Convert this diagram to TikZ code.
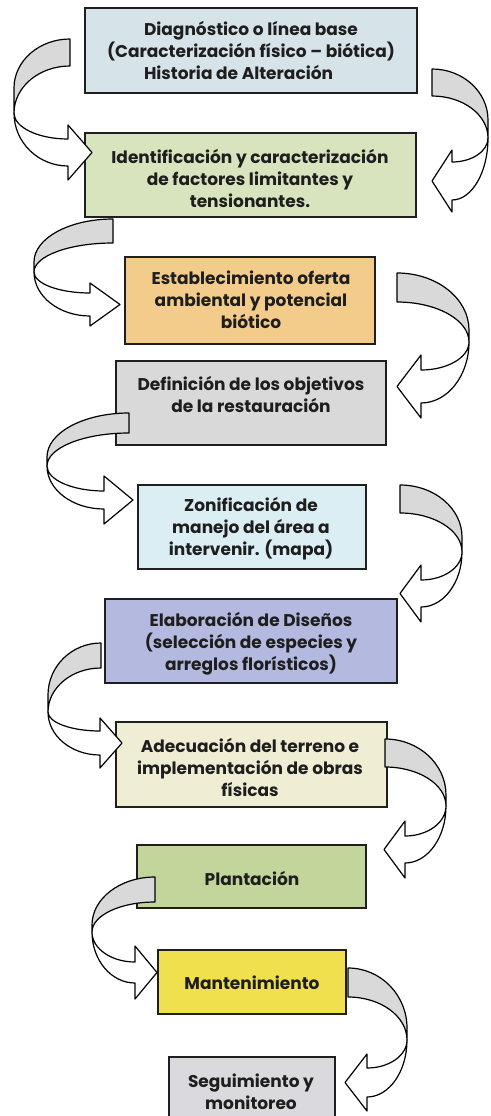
\documentclass[tikz,border=0pt]{standalone}
\usepackage{fontspec}
\setmainfont{Poppins}
\definecolor{txt}{HTML}{1E1E1E}
\definecolor{edge}{HTML}{1F1F1F}
\definecolor{cA}{HTML}{D6E3E8}
\definecolor{cB}{HTML}{D7E4BD}
\definecolor{cC}{HTML}{F3CC8C}
\definecolor{cD}{HTML}{D9D9D9}
\definecolor{cE}{HTML}{DAEEF3}
\definecolor{cF}{HTML}{B4B9DF}
\definecolor{cG}{HTML}{F0EDD5}
\definecolor{cH}{HTML}{C2D69B}
\definecolor{cI}{HTML}{F1E04E}
\definecolor{cJ}{HTML}{D9D9DE}
\definecolor{back}{HTML}{D9D9D9}
\tikzset{
  box/.style={draw=edge, line width=2pt, rectangle, inner sep=0pt},
  lbl/.style={align=center, inner sep=0pt, text=txt, font=\bfseries\fontsize{17}{22}\selectfont},
  backband/.style={draw=black, line width=1.2pt, fill=back, line join=round},
  frontband/.style={draw=black, line width=1.2pt, fill=white, line join=round},
}
\newcommand\hw{14}
\newcommand\hl{22}
\newcommand\sethead[2]{\renewcommand\hw{#1}\renewcommand\hl{#2}}
\newcommand\boxnode[6]{%
  \pgfmathsetmacro\bw{#4-#2}\pgfmathsetmacro\bh{#5-#3}%
  \node[box, fill=#6, minimum width=\bw pt, minimum height=\bh pt] (#1) at ({(#2+#4)/2},{(#3+#5)/2}) {};}
% #1 xc, #2 t1, #3 th, #4 xl, #5 ym, #6 ym2, #7 xh, #8 yht, #9 yhb
\newcommand\carrow[9]{%
  \pgfmathsetmacro\ctb{#2+#3}%
  \pgfmathsetmacro\csg{ifthenelse(#7>#4,1,-1)}%
  \pgfmathsetmacro\cax{#1+0.5523*(#4-#1)}%
  \pgfmathsetmacro\cay{#5+0.5523*(#2-#5)}%
  \pgfmathsetmacro\cgy{#6+0.5523*(\ctb-#6)}%
  \pgfmathsetmacro\cbx{#7+0.5523*(#4-#7)}%
  \pgfmathsetmacro\csy{#6+0.5523*(#9-#6)}%
  \pgfmathsetmacro\cwy{#6+0.5523*(#8-#6)}%
  \pgfmathsetmacro\ctipx{#7+\csg*\hl}%
  \pgfmathsetmacro\ctipy{(#8+#9)/2}%
  \pgfmathsetmacro\cbt{#8-\hw}%
  \pgfmathsetmacro\cbb{#9+\hw}%
  \filldraw[backband] (#1,#2) .. controls (\cax,#2) and (#4,\cay) .. (#4,#5) -- (#4,#6) .. controls (#4,\cgy) and (\cax,\ctb) .. (#1,\ctb) -- cycle;
  \filldraw[frontband] (#4,#6) .. controls (#4,\csy) and (\cbx,#9) .. (#7,#9) -- (#7,\cbb) -- (\ctipx,\ctipy) -- (#7,\cbt) -- (#7,#8) .. controls (\cbx,#8) and (#4,\cwy) .. (#4,#6) -- cycle;
}
\begin{document}
\begin{tikzpicture}[x=1pt, y=-1pt]
\clip (0,0) rectangle (490,1116);
\fill[white] (0,0) rectangle (490,1116);
% boxes
\boxnode{b1}{85}{8}{417}{93}{cA}
\boxnode{b2}{85}{133}{416}{217}{cB}
\boxnode{b3}{125}{257}{375}{344}{cC}
\boxnode{b4}{116}{361}{386}{445}{cD}
\boxnode{b5}{138}{485}{366}{569}{cE}
\boxnode{b6}{105}{599}{397}{683}{cF}
\boxnode{b7}{116}{722}{387}{807}{cG}
\boxnode{b8}{137}{845}{366}{908}{cH}
\boxnode{b9}{158}{950}{346}{1014}{cI}
\boxnode{b10}{169}{1057}{335}{1135}{cJ}
% curved arrows
\sethead{14}{24}\carrow{70}{39}{27}{14}{88}{113}{68}{139}{166}
\sethead{12}{20}\carrow{432}{69}{27}{488}{120}{138}{452}{162}{200}
\sethead{10}{30}\carrow{113}{219}{24}{34}{262}{272}{90}{293}{316}
\sethead{15}{24}\carrow{397}{273}{29}{469}{330}{342}{421}{370}{403}
\sethead{15}{29}\carrow{129}{413}{20}{47}{457}{466}{104}{491}{509}
\sethead{15}{21}\carrow{400}{485}{28}{462}{537}{552}{421}{580}{607}
\sethead{13}{22}\carrow{101}{643}{25}{48}{695}{712}{100}{731}{755}
\sethead{15}{21}\carrow{385}{739}{28}{446}{795}{806}{405}{836}{863}
\sethead{16}{22}\carrow{155}{877}{25}{92}{925}{932}{135}{962}{983}
\sethead{14}{22}\carrow{348}{968}{29}{407}{1028}{1040}{367}{1068}{1097}
% labels
\node[lbl] (t1) at (251,53) {Diagnóstico o línea base\\(Caracterización físico – biótica)\\\rlap{Historia de Alteración}\phantom{Diagnóstico o línea base}};
\node[lbl] (t2) at (250,178.5) {Identificación y caracterización\\de factores limitantes y\\tensionantes.};
\node[lbl] (t3) at (251,300) {Establecimiento oferta\\ambiental y potencial\\biótico};
\node[lbl] (t4) at (251,394) {Definición de los objetivos\\de la restauración};
\node[lbl] (t5) at (251,529) {Zonificación de\\manejo del área a\\intervenir. (mapa)};
\node[lbl] (t6) at (251,644) {Elaboración de Diseños\\(selección de especies y\\arreglos florísticos)};
\node[lbl] (t7) at (250,767) {Adecuación del terreno e\\implementación de obras\\físicas};
\node[lbl] (t8) at (252,878) {Plantación};
\node[lbl] (t9) at (252,983) {Mantenimiento};
\node[lbl] (t10) at (251,1091.5) {Seguimiento y\\monitoreo};
\end{tikzpicture}
\end{document}
